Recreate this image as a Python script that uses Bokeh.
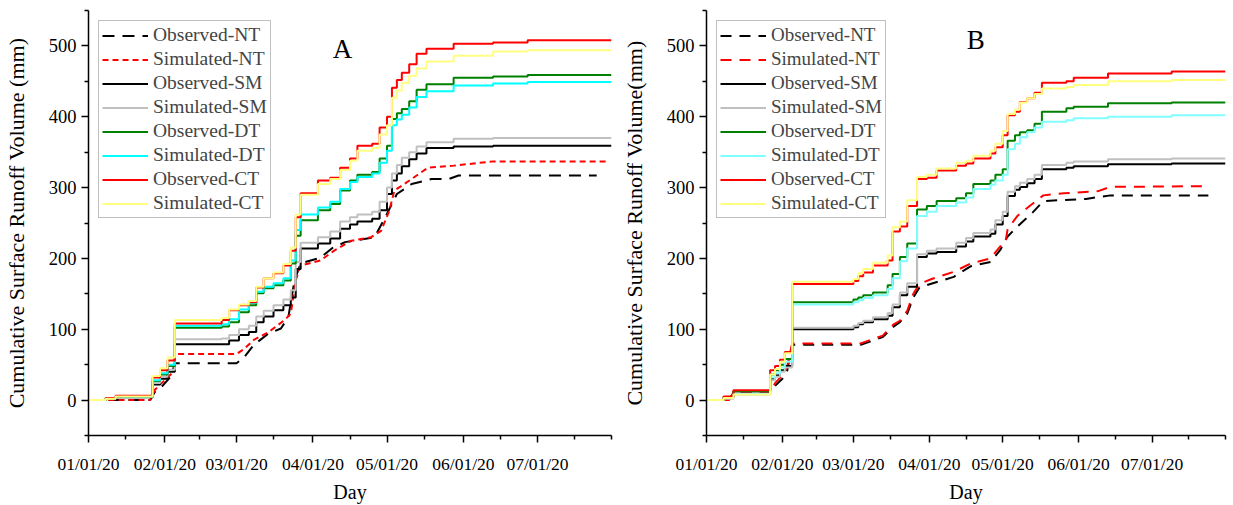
import numpy as np
import pandas as pd
from bokeh.plotting import figure
from bokeh.models import Range1d, FixedTicker, DatetimeTickFormatter, Legend, LegendItem, Label
from bokeh.layouts import row
from bokeh.embed import file_html
from bokeh.resources import INLINE

FONT = "Liberation Serif"
BASE = pd.Timestamp("2020-01-01")
END_DAY = 212

# x-axis ticks (month starts) and mid-month minor ticks
MONTH_STARTS = ["2020-01-01", "2020-02-01", "2020-03-01", "2020-04-01",
                "2020-05-01", "2020-06-01", "2020-07-01"]
MINOR_DATES = ["2020-01-16", "2020-02-15", "2020-03-16", "2020-04-16",
               "2020-05-16", "2020-06-16", "2020-07-16", "2020-07-31"]
Y_TICKS = [0, 100, 200, 300, 400, 500]
Y_MINOR = [-50, 50, 150, 250, 350, 450, 550]

SERIES = ["Observed-NT", "Simulated-NT", "Observed-SM", "Simulated-SM",
          "Observed-DT", "Simulated-DT", "Observed-CT", "Simulated-CT"]

# ---------------- Panel A (days since 01/01/20, cumulative runoff mm) -------------
A_days = [0, 7, 11, 26, 29, 32, 35, 54, 57, 61, 65, 68, 71, 75, 79, 82, 84, 86, 93, 98,
          102, 106, 109, 115, 118, 121, 123, 125, 127, 130, 133, 137, 148, 164, 178, 212]
A_obs_ct = [0, 3, 6, 32, 42, 56, 108, 113, 127, 134, 138, 159, 172, 179, 190, 211, 258, 292, 310, 314,
            328, 341, 359, 362, 385, 400, 441, 452, 462, 474, 489, 496, 503, 505, 508, 508]
A_sim_ct = [0, 2, 5, 34, 45, 60, 113, 116, 128, 135, 140, 160, 172, 180, 192, 215, 262, 290, 305, 312,
            325, 338, 352, 356, 375, 388, 427, 437, 448, 458, 468, 478, 486, 492, 494, 494]
A_obs_dt = [0, 3, 5, 27, 36, 48, 102, 104, 110, 124, 134, 151, 158, 162, 169, 193, 232, 254, 268, 277,
            296, 310, 318, 322, 341, 359, 397, 405, 411, 422, 438, 446, 455, 457, 459, 459]
A_sim_dt = [0, 3, 5, 28, 38, 50, 105, 107, 114, 128, 137, 153, 160, 165, 172, 197, 240, 262, 272, 280,
            298, 308, 315, 320, 335, 352, 388, 396, 403, 413, 428, 436, 444, 447, 449, 449]
A_obs_sm = [0, 2, 4, 22, 30, 40, 79, 79, 84, 92, 96, 110, 118, 127, 134, 145, 185, 214, 221, 228,
            242, 248, 252, 256, 268, 291, 310, 320, 330, 340, 348, 356, 358, 359, 359, 359]
A_sim_sm = [0, 2, 5, 24, 33, 43, 86, 87, 92, 100, 105, 118, 126, 134, 142, 155, 195, 222, 230, 238,
            252, 258, 262, 266, 280, 300, 320, 332, 342, 350, 358, 364, 369, 370, 370, 370]
A_nt_obs_days = [0, 25, 27, 30, 33, 34, 35, 60, 63, 67, 73, 78, 81, 83.5, 86, 94, 99, 104, 116, 121,
                 125, 128, 131, 139, 146, 150, 206]
A_nt_obs = [0, 0, 12, 20, 32, 40, 52, 52, 60, 78, 94, 101, 117, 169, 193, 201, 215, 223, 230, 263,
            291, 298, 305, 312, 312, 317, 317]
A_nt_sim_days = [0, 25, 27, 30, 33, 34.5, 35, 60, 63, 67, 73, 79.5, 82, 84, 86, 94, 99.6, 106.5, 114.6,
                 118.6, 122, 124, 128, 133, 137.6, 148, 164, 210]
A_nt_sim = [0, 0, 15, 25, 35, 40, 65, 65, 72, 85, 96, 113, 122, 169, 190, 197, 211, 225, 230,
            239, 268, 296, 305, 317, 328, 331, 337, 337]

# ---------------- Panel B -------------
B_days = [0, 7, 11, 26, 28, 30, 32, 35, 60, 62, 64, 68, 74, 76, 79, 82, 86, 90, 94, 102,
          106, 109, 116, 118, 121, 123, 126, 128, 131, 134, 137, 147, 150, 164, 190, 212]
B_obs_ct = [0, 5, 14, 42, 48, 57, 68, 164, 168, 175, 180, 190, 197, 238, 245, 274, 312, 314, 324, 331,
            334, 341, 348, 357, 374, 402, 407, 421, 426, 434, 448, 450, 455, 461, 464, 464]
B_sim_ct = [0, 3, 8, 36, 44, 54, 66, 167, 171, 179, 185, 194, 204, 244, 252, 282, 315, 318, 327, 335,
            338, 345, 352, 362, 380, 404, 410, 420, 426, 432, 440, 442, 445, 450, 452, 452]
B_obs_dt = [0, 4, 13, 36, 42, 50, 58, 138, 142, 145, 148, 152, 162, 178, 202, 221, 269, 274, 281, 285,
            292, 305, 310, 318, 326, 366, 374, 378, 381, 390, 407, 412, 414, 419, 420, 420]
B_sim_dt = [0, 3, 9, 32, 38, 46, 54, 135, 138, 141, 144, 148, 157, 172, 196, 214, 260, 266, 274, 279,
            286, 298, 304, 310, 318, 354, 362, 371, 378, 385, 393, 395, 398, 400, 402, 402]
B_obs_sm = [0, 4, 12, 30, 35, 42, 48, 100, 103, 107, 110, 114, 119, 131, 148, 160, 202, 207, 209, 217,
            224, 231, 235, 248, 260, 288, 297, 301, 306, 312, 326, 328, 330, 333, 334, 334]
B_sim_sm = [0, 2, 8, 28, 33, 40, 46, 102, 105, 109, 112, 117, 123, 135, 152, 165, 206, 211, 214, 222,
            229, 236, 241, 254, 266, 294, 302, 307, 312, 318, 332, 335, 337, 340, 341, 341]
B_nt_obs_days = [0, 9, 11, 26, 28, 31, 33, 35, 63, 72, 76.5, 79, 82, 84.5, 87, 101, 108, 116, 120, 122,
                 123, 127, 133, 137.6, 155, 165, 205]
B_nt_obs = [0, 0, 10, 10, 20, 30, 42, 78, 78, 89, 104, 110, 122, 145, 159, 174, 189, 195, 212, 225,
            231, 245, 264, 281, 284, 289, 289]
B_nt_sim_days = [0, 9, 11, 26, 28, 31, 33, 35, 63, 72, 76.5, 79, 82, 84.5, 87, 92, 101, 108, 116, 120,
                 122, 123, 127, 132, 137.6, 146, 160, 165, 205]
B_nt_sim = [0, 0, 10, 10, 24, 35, 48, 80, 80, 91, 107, 112, 126, 150, 164, 171, 181, 193, 200, 217,
            221, 241, 260, 274, 289, 292, 295, 301, 302]


def to_dt(days):
    return BASE + pd.to_timedelta(np.asarray(days, dtype=float), unit="D")


def ms(s):
    return pd.Timestamp(s).value / 1e6


def make_panel(width, left, right, days, solids, nt_obs, nt_sim, styles, ylabel,
               letter, letter_day, letter_y, legend_font):
    p = figure(width=width, height=505, x_axis_type="datetime",
               x_range=Range1d(BASE.to_pydatetime(), (BASE + pd.Timedelta(days=END_DAY)).to_pydatetime()),
               y_range=Range1d(-50, 550), output_backend="svg", toolbar_location=None,
               min_border_left=left, min_border_right=right, min_border_top=10, min_border_bottom=69)
    p.outline_line_color = None
    p.grid.visible = False
    p.background_fill_color = "white"
    p.border_fill_color = "white"

    renderers = []
    st = styles
    r = p.line(to_dt(nt_obs[0]), nt_obs[1], line_color="black", line_width=2, line_dash=st["nt_obs_dash"])
    renderers.append(r)
    r = p.line(to_dt(nt_sim[0]), nt_sim[1], line_color="#FF0000", line_width=2, line_dash=st["nt_sim_dash"])
    renderers.append(r)
    xs = to_dt(days)
    colors = ["black", "#C0C0C0", "#008000", st["cyan"], "#FF0000", st["yellow"]]
    for vals, c in zip(solids, colors):
        r = p.step(xs, vals, mode="after", line_color=c, line_width=2)
        renderers.append(r)

    legend = Legend(items=[LegendItem(label=lab, renderers=[rr]) for lab, rr in zip(SERIES, renderers)],
                    location="top_left", margin=10, padding=3, spacing=2,
                    glyph_width=46, glyph_height=21, label_height=21, label_standoff=5,
                    label_text_font=FONT, label_text_font_size=legend_font,
                    border_line_color="#7f7f7f", border_line_width=1,
                    background_fill_color="white", background_fill_alpha=1.0)
    p.add_layout(legend)

    # axes
    p.xaxis.ticker = FixedTicker(ticks=[ms(s) for s in MONTH_STARTS],
                                 minor_ticks=[ms(s) for s in MINOR_DATES])
    p.xaxis.formatter = DatetimeTickFormatter(days="%m/%d/%y", months="%m/%d/%y", years="%m/%d/%y")
    p.yaxis.ticker = FixedTicker(ticks=Y_TICKS, minor_ticks=Y_MINOR)
    for ax in (p.xaxis, p.yaxis):
        ax.axis_line_color = "black"
        ax.axis_line_width = 1.5
        ax.major_tick_line_color = "black"
        ax.major_tick_line_width = 1.5
        ax.minor_tick_line_color = "black"
        ax.minor_tick_line_width = 1.5
        ax.major_tick_in = 0
        ax.minor_tick_in = 0
        ax.major_tick_out = 7
        ax.minor_tick_out = 4
        ax.major_label_text_font = FONT
        ax.major_label_text_color = "black"
        ax.axis_label_text_font = FONT
        ax.axis_label_text_font_style = "normal"
        ax.axis_label_text_color = "black"
    p.xaxis.axis_label = "Day"
    p.xaxis.axis_label_text_font_size = "20px"
    p.xaxis.major_label_text_font_size = "17.5px"
    p.xaxis.major_label_standoff = 11
    p.xaxis.axis_label_standoff = 4
    p.yaxis.axis_label = ylabel
    p.yaxis.axis_label_text_font_size = "22px"
    p.yaxis.major_label_text_font_size = "18.5px"
    p.yaxis.major_label_standoff = 5
    p.yaxis.axis_label_standoff = 17

    lab = Label(x=ms(str((BASE + pd.Timedelta(days=letter_day)).date())), y=letter_y, text=letter,
                text_font=FONT, text_font_size="27px", text_align="center",
                text_baseline="middle", text_color="black")
    p.add_layout(lab)
    return p


pA = make_panel(618, 87, 7, A_days,
                [A_obs_sm, A_sim_sm, A_obs_dt, A_sim_dt, A_obs_ct, A_sim_ct],
                (A_nt_obs_days, A_nt_obs), (A_nt_sim_days, A_nt_sim),
                {"nt_obs_dash": "12 8", "nt_sim_dash": "6 4", "cyan": "#00FFFF", "yellow": "#FFFF80"},
                "Cumulative Surface Runoff Volume (mm)", "A", 103, 496, "19.5px")
pB = make_panel(615, 88, 8, B_days,
                [B_obs_sm, B_sim_sm, B_obs_dt, B_sim_dt, B_obs_ct, B_sim_ct],
                (B_nt_obs_days, B_nt_obs), (B_nt_sim_days, B_nt_sim),
                {"nt_obs_dash": "11 8", "nt_sim_dash": "11 8", "cyan": "#80FFFF", "yellow": "#FFFF80"},
                "Cumulative Surface Runoff Volume(mm)", "B", 110, 508, "19px")

layout = row(pA, pB)
open("out.html", "w").write(file_html(layout, INLINE))
